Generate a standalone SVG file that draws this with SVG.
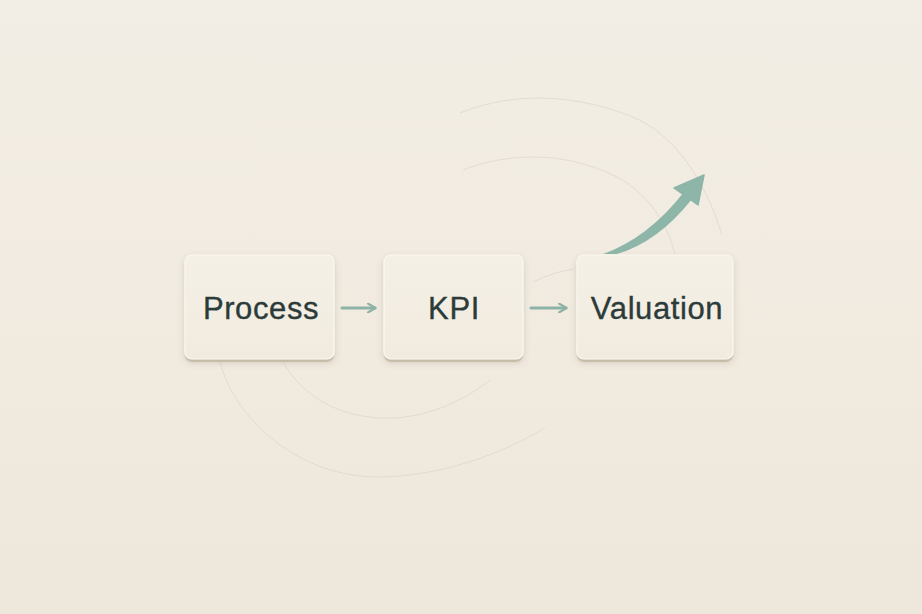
<svg xmlns="http://www.w3.org/2000/svg" width="922" height="614" viewBox="0 0 922 614">
<defs>
<linearGradient id="bg" x1="0" y1="0" x2="0" y2="1">
<stop offset="0" stop-color="#f3eee5"/>
<stop offset="1" stop-color="#eee7db"/>
</linearGradient>
<linearGradient id="boxg" x1="0" y1="0" x2="0" y2="1">
<stop offset="0" stop-color="#f5f0e6"/>
<stop offset="1" stop-color="#f1ebdf"/>
</linearGradient>
<filter id="sh" x="-20%" y="-20%" width="140%" height="150%">
<feDropShadow dx="0" dy="3" stdDeviation="3" flood-color="#7a6a50" flood-opacity="0.25"/>
</filter>
<marker id="chev" viewBox="0 0 10 10" refX="8" refY="5" markerWidth="10" markerHeight="10" markerUnits="userSpaceOnUse" orient="auto">
<path d="M1,0.5 L8.5,5 L1,9.5" fill="none" stroke="#8db3a6" stroke-width="2.2" stroke-linecap="round" stroke-linejoin="round"/>
</marker>
</defs>
<style>
.box{fill:url(#boxg);stroke:#fbf8f2;stroke-width:1.2;filter:url(#sh)}
.base{fill:#d6ccbb}
.lbl{font-family:"Liberation Sans",Arial,sans-serif;font-size:31px;letter-spacing:0.6px;fill:#2c3b39;stroke:#2c3b39;stroke-width:0.35;text-anchor:middle}
.link{fill:none;stroke:#8db3a6;stroke-width:3;stroke-linecap:round}
.faint{fill:none;stroke:#ddd7cc;stroke-width:0.8}
</style>
<rect width="922" height="614" fill="url(#bg)"/>
<g id="decor">
<path class="faint" d="M220,362 C235,420 300,478 380,477 C440,476 500,455 545,428"/>
<path class="faint" d="M283,362 C305,400 345,420 395,418 C430,416 465,400 490,380"/>
<path class="faint" d="M460,113 C500,97 560,88 633,117 C675,135 705,180 722,235"/>
<path class="faint" d="M463,170 C500,155 560,148 617,177 C650,195 668,225 675,255"/>
<path class="faint" d="M533,282 C548,275 560,271 574,269"/>
</g>
<g id="node-process">
<rect class="base" x="185" y="258" width="149" height="104" rx="7"/>
<rect class="box" x="185" y="255" width="149" height="104" rx="7"/>
<text class="lbl" x="261" y="319">Process</text>
</g>
<g id="node-kpi">
<rect class="base" x="384" y="258" width="139" height="104" rx="7"/>
<rect class="box" x="384" y="255" width="139" height="104" rx="7"/>
<text class="lbl" x="454" y="319">KPI</text>
</g>
<g id="node-valuation">
<rect class="base" x="577" y="258" width="156" height="104" rx="7"/>
<rect class="box" x="577" y="255" width="156" height="104" rx="7"/>
<text class="lbl" x="657" y="319">Valuation</text>
</g>
<g id="connectors">
<line class="link" x1="342" y1="308" x2="375" y2="308" marker-end="url(#chev)"/>
<line class="link" x1="531" y1="308" x2="566" y2="308" marker-end="url(#chev)"/>
<path d="M603,254 Q648,238 684,192 L692,199 Q658,242 617,254 Z" fill="#8db5a8"/>
<path d="M704,175 L674,188 L698,205 Z" fill="#8db5a8" stroke="#8db5a8" stroke-width="1.5" stroke-linejoin="round"/>
</g>
</svg>
